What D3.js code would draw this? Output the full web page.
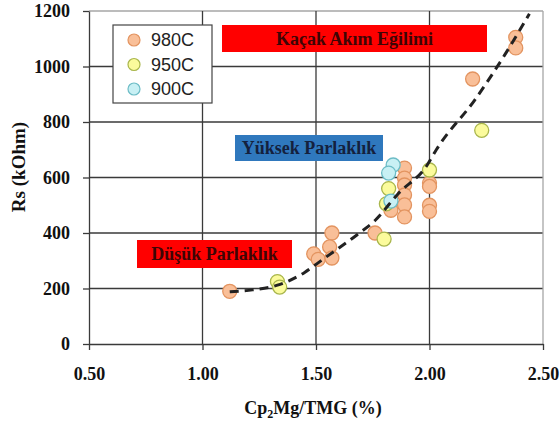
<!DOCTYPE html>
<html>
<head>
<meta charset="utf-8">
<script src="https://cdn.jsdelivr.net/npm/d3@7"></script>
<style>
  html, body { margin: 0; padding: 0; background: #fff; }
  svg { display: block; }
</style>
</head>
<body>
<svg id="chart" width="560" height="428"></svg>
<script>
// Sheet resistance vs. Cp2Mg/TMG ratio for three growth temperatures
const seriesNames = ["980C", "950C", "900C"];

const ratio980 = [1.12, 1.49, 1.51, 1.57, 1.56, 1.57, 1.76, 1.83, 1.89, 1.89, 1.89, 1.89, 1.89, 1.89, 2.00, 2.00, 2.00, 2.00, 2.19, 2.38, 2.38];
const rs980    = [190, 325, 305, 400, 350, 310, 400, 482, 634, 598, 573, 537, 501, 458, 580, 568, 500, 478, 955, 1105, 1067];

const ratio950 = [1.33, 1.34, 1.80, 1.82, 1.81, 2.00, 2.23];
const rs950    = [225, 205, 378, 560, 505, 627, 770];

const ratio900 = [1.84, 1.82, 1.83];
const rs900    = [645, 616, 515];

// Trend curve through the data
const trendRatio = [1.12, 1.22, 1.33, 1.45, 1.53, 1.68, 1.76, 1.86, 1.99, 2.03, 2.20, 2.33, 2.44];
const trendRs    = [188, 195, 212, 258, 305, 393, 445, 540, 645, 700, 880, 1040, 1190];

const xTicks = [0.5, 1.0, 1.5, 2.0, 2.5];
const yTicks = [0, 200, 400, 600, 800, 1000, 1200];

const fills   = { "980C": "#f9bf98", "950C": "#fbfb9c", "900C": "#c8f0f4" };
const strokes = { "980C": "#e39460", "950C": "#a9b64c", "900C": "#6cbcc6" };

const svg = d3.select("#chart");
const x = d3.scaleLinear().domain([0.5, 2.5]).range([89, 543]);
const y = d3.scaleLinear().domain([0, 1200]).range([344, 11]);

const serif = "'Liberation Serif', 'Times New Roman', serif";
const sans = "'Liberation Sans', Arial, sans-serif";

// grid
const grid = svg.append("g");
grid.selectAll(".hg").data(yTicks.filter(d => d > 0)).join("line")
  .attr("x1", x(0.5)).attr("x2", x(2.5))
  .attr("y1", d => y(d)).attr("y2", d => y(d))
  .attr("stroke", d => d === 1200 ? "#a6a6a6" : "#3a3a3a")
  .attr("stroke-width", 1.3);
grid.selectAll(".vg").data(xTicks.filter(d => d > 0.5)).join("line")
  .attr("x1", d => x(d)).attr("x2", d => x(d))
  .attr("y1", y(0)).attr("y2", y(1200))
  .attr("stroke", d => d === 2.5 ? "#a6a6a6" : "#3a3a3a")
  .attr("stroke-width", 1.3);

// axes
const xAxis = d3.axisBottom(x).tickValues(xTicks).tickFormat(d3.format(".2f")).tickSizeInner(6).tickSizeOuter(0).tickPadding(17);
const yAxis = d3.axisLeft(y).tickValues(yTicks).tickFormat(d3.format("d")).tickSizeInner(6).tickSizeOuter(0).tickPadding(13);

const gx = svg.append("g").attr("transform", `translate(0,${y(0)})`).call(xAxis);
const gy = svg.append("g").attr("transform", `translate(${x(0.5)},0)`).call(yAxis);
[gx, gy].forEach(g => {
  g.select(".domain").attr("stroke", "#3a3a3a").attr("stroke-width", 1.3);
  g.selectAll(".tick line").attr("stroke", "#3a3a3a").attr("stroke-width", 1.3);
  g.selectAll(".tick text").attr("font-family", serif).attr("font-weight", "bold")
    .attr("font-size", 18).attr("fill", "#111");
});

// axis titles
svg.append("text")
  .attr("transform", `translate(25,167) rotate(-90)`)
  .attr("text-anchor", "middle")
  .attr("font-family", serif).attr("font-weight", "bold").attr("font-size", 19).attr("fill", "#111")
  .text("Rs (kOhm)");

const xt = svg.append("text")
  .attr("x", 313).attr("y", 414)
  .attr("text-anchor", "middle")
  .attr("font-family", serif).attr("font-weight", "bold").attr("font-size", 18).attr("fill", "#111");
xt.append("tspan").text("Cp");
xt.append("tspan").attr("font-size", 12).attr("dy", 4).text("2");
xt.append("tspan").attr("dy", -4).text("Mg/TMG (%)");

// annotation boxes
const notes = [
  { text: "Kaçak Akım Eğilimi", x0: 222, x1: 487, y0: 25, y1: 52, bg: "#ff0000", fg: "#3d0505", size: 18 },
  { text: "Yüksek Parlaklık",   x0: 235, x1: 383, y0: 135, y1: 161, bg: "#2f78bd", fg: "#14213d", size: 18 },
  { text: "Düşük Parlaklık",    x0: 137, x1: 292, y0: 240, y1: 268, bg: "#ff0000", fg: "#3d0505", size: 18 }
];
const ng = svg.append("g").selectAll("g").data(notes).join("g");
ng.append("rect")
  .attr("x", d => d.x0).attr("y", d => d.y0)
  .attr("width", d => d.x1 - d.x0).attr("height", d => d.y1 - d.y0)
  .attr("fill", d => d.bg);
ng.append("text")
  .attr("x", d => (d.x0 + d.x1) / 2).attr("y", d => (d.y0 + d.y1) / 2)
  .attr("dy", "0.35em").attr("text-anchor", "middle")
  .attr("font-family", serif).attr("font-weight", "bold")
  .attr("font-size", d => d.size).attr("fill", d => d.fg)
  .text(d => d.text);

// data points
const sets = [
  { name: "980C", xs: ratio980, ys: rs980 },
  { name: "950C", xs: ratio950, ys: rs950 },
  { name: "900C", xs: ratio900, ys: rs900 }
];
const pts = svg.append("g");
sets.forEach(s => {
  pts.selectAll(null).data(s.xs.map((v, i) => [v, s.ys[i]])).join("circle")
    .attr("cx", d => x(d[0])).attr("cy", d => y(d[1])).attr("r", 7)
    .attr("fill", fills[s.name]).attr("stroke", strokes[s.name]).attr("stroke-width", 1.3);
});

// dashed trend curve
const line = d3.line().x(d => x(d[0])).y(d => y(d[1])).curve(d3.curveMonotoneX);
svg.append("path")
  .datum(trendRatio.map((v, i) => [v, trendRs[i]]))
  .attr("d", line)
  .attr("fill", "none").attr("stroke", "#222").attr("stroke-width", 3)
  .attr("stroke-dasharray", "9,6");

// legend
const lg = svg.append("g");
lg.append("rect").attr("x", 113).attr("y", 25).attr("width", 99).attr("height", 78)
  .attr("fill", "#fff").attr("stroke", "#444").attr("stroke-width", 1.2);
const items = lg.selectAll("g").data(seriesNames).join("g")
  .attr("transform", (d, i) => `translate(134,${40 + i * 24.5})`);
items.append("circle").attr("r", 6)
  .attr("fill", d => fills[d]).attr("stroke", d => strokes[d]).attr("stroke-width", 1.2);
items.append("text").attr("x", 17).attr("dy", "0.36em")
  .attr("font-family", sans).attr("font-size", 18).attr("fill", "#222")
  .text(d => d);
</script>
</body>
</html>
